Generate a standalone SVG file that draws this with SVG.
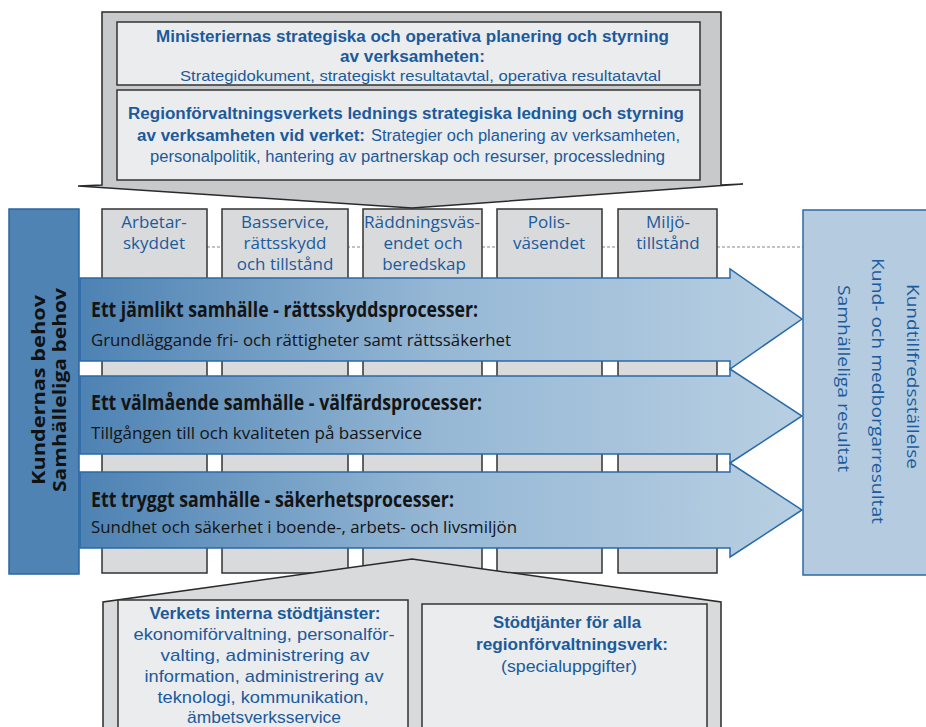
<svg xmlns="http://www.w3.org/2000/svg" width="926" height="727" viewBox="0 0 926 727">
<defs>
<linearGradient id="ag" gradientUnits="userSpaceOnUse" x1="80" y1="0" x2="802" y2="0">
<stop offset="0" stop-color="#4d82b3"/>
<stop offset="0.5" stop-color="#96b8d5"/>
<stop offset="1" stop-color="#b8cfe2"/>
</linearGradient>
<style>
.col{fill:#d9dadc;stroke:#333;stroke-width:1.5}
.inner{fill:#ebeced;stroke:#333;stroke-width:1.5}
.t{font-family:"Open Sans","Noto Sans",sans-serif;fill:#1b5a9b}
.ls{font-family:"Liberation Sans",Arial,sans-serif;fill:#1b5a9b}
.lbl{font-size:17px;text-anchor:middle}
.b{font-weight:bold}
.top{font-size:16px}
.top2{font-size:15px}
.bot{font-size:17px}
.arrow{fill:url(#ag);stroke:#2a6aa8;stroke-width:1.5}
.ah{font-family:"Open Sans","Noto Sans",sans-serif;font-weight:bold;font-size:21px;fill:#141414}
.as{font-family:"Open Sans","Noto Sans",sans-serif;font-size:17px;fill:#141414}
.side{font-family:"Open Sans","Noto Sans",sans-serif;font-size:17px}
</style>
</defs>
<rect width="926" height="727" fill="#ffffff"/>

<g id="connectors">
<line x1="207" y1="247" x2="803" y2="247" stroke="#888" stroke-width="1" stroke-dasharray="3,2"/>
</g>

<g id="col-arbetarskyddet">
<rect class="col" x="102" y="209" width="105" height="364"/>
<text class="t lbl" x="154" y="228">Arbetar-</text>
<text class="t lbl" x="154" y="249">skyddet</text>
</g>
<g id="col-basservice">
<rect class="col" x="222" y="209" width="126" height="364"/>
<text class="t lbl" x="285" y="228">Basservice,</text>
<text class="t lbl" x="285" y="249">rättsskydd</text>
<text class="t lbl" x="285" y="270">och tillstånd</text>
</g>
<g id="col-raddning">
<rect class="col" x="363" y="209" width="119" height="364"/>
<text class="t lbl" x="422" y="228" textLength="116" lengthAdjust="spacingAndGlyphs">Räddningsväs-</text>
<text class="t lbl" x="423" y="249">endet och</text>
<text class="t lbl" x="424" y="270">beredskap</text>
</g>
<g id="col-polis">
<rect class="col" x="497" y="209" width="105" height="364"/>
<text class="t lbl" x="549" y="228">Polis-</text>
<text class="t lbl" x="549" y="249">väsendet</text>
</g>
<g id="col-miljo">
<rect class="col" x="618" y="209" width="99" height="364"/>
<text class="t lbl" x="668" y="228">Miljö-</text>
<text class="t lbl" x="668" y="249">tillstånd</text>
</g>

<g id="top-steering">
<polygon points="102,12 721,12 721,185 743,184 412,208 78,186 102,185" fill="#c8c9cb" stroke="#2a2a2a" stroke-width="1.5" stroke-linejoin="miter"/>
<rect class="inner" x="117" y="22" width="583" height="63"/>
<rect class="inner" x="117" y="90" width="583" height="90"/>
<text class="ls top b" x="412.5" y="42" text-anchor="middle" textLength="513" lengthAdjust="spacingAndGlyphs">Ministeriernas strategiska och operativa planering och styrning</text>
<text class="ls top b" x="412.5" y="62" text-anchor="middle" textLength="145" lengthAdjust="spacingAndGlyphs">av verksamheten:</text>
<text class="ls top2" x="180" y="80.5" textLength="481" lengthAdjust="spacingAndGlyphs">Strategidokument, strategiskt resultatavtal, operativa resultatavtal</text>
<text class="ls top b" x="128" y="119" textLength="556" lengthAdjust="spacingAndGlyphs">Regionförvaltningsverkets lednings strategiska ledning och styrning</text>
<text class="ls top b" x="137" y="141" textLength="228" lengthAdjust="spacingAndGlyphs">av verksamheten vid verket:</text>
<text class="ls top" x="371" y="141" textLength="309" lengthAdjust="spacingAndGlyphs">Strategier och planering av verksamheten,</text>
<text class="ls top" x="150" y="162" textLength="515" lengthAdjust="spacingAndGlyphs">personalpolitik, hantering av partnerskap och resurser, processledning</text>
</g>

<g id="bottom-support">
<polygon points="103,740 103,602 412,559 721,602 721,740" fill="#d9dadc" stroke="#2a2a2a" stroke-width="1.5"/>
<rect class="inner" x="118" y="600" width="290" height="140"/>
<rect class="inner" x="422" y="604" width="285" height="136"/>
<text class="ls bot b" x="265" y="619" text-anchor="middle" textLength="231" lengthAdjust="spacingAndGlyphs">Verkets interna stödtjänster:</text>
<text class="ls bot" x="264" y="640" text-anchor="middle" textLength="261" lengthAdjust="spacingAndGlyphs">ekonomiförvaltning, personalför-</text>
<text class="ls bot" x="265" y="661" text-anchor="middle" textLength="209" lengthAdjust="spacingAndGlyphs">valting, administrering av</text>
<text class="ls bot" x="264" y="682" text-anchor="middle" textLength="239" lengthAdjust="spacingAndGlyphs">information, administrering av</text>
<text class="ls bot" x="263" y="703" text-anchor="middle" textLength="211" lengthAdjust="spacingAndGlyphs">teknologi, kommunikation,</text>
<text class="ls bot" x="264" y="723" text-anchor="middle" textLength="154" lengthAdjust="spacingAndGlyphs">ämbetsverksservice</text>
<text class="ls bot b" x="567" y="628" text-anchor="middle" textLength="148" lengthAdjust="spacingAndGlyphs">Stödtjänter för alla</text>
<text class="ls bot b" x="572" y="650" text-anchor="middle" textLength="192" lengthAdjust="spacingAndGlyphs">regionförvaltningsverk:</text>
<text class="ls bot" x="569" y="672" text-anchor="middle" textLength="136" lengthAdjust="spacingAndGlyphs">(specialuppgifter)</text>
</g>

<g id="arrow-rattsskydd">
<polygon class="arrow" points="80,278 730,278 730,269 802,319 730,369 730,361 80,361"/>
<text class="ah" x="91" y="317" textLength="387" lengthAdjust="spacingAndGlyphs">Ett jämlikt samhälle - rättsskyddsprocesser:</text>
<text class="as" x="91" y="346" textLength="420" lengthAdjust="spacingAndGlyphs">Grundläggande fri- och rättigheter samt rättssäkerhet</text>
</g>
<g id="arrow-valfard">
<polygon class="arrow" points="80,376 730,376 730,369 802,416 730,463 730,454 80,454"/>
<text class="ah" x="91" y="410" textLength="391" lengthAdjust="spacingAndGlyphs">Ett välmående samhälle - välfärdsprocesser:</text>
<text class="as" x="91" y="439" textLength="331" lengthAdjust="spacingAndGlyphs">Tillgången till och kvaliteten på basservice</text>
</g>
<g id="arrow-sakerhet">
<polygon class="arrow" points="80,472 730,472 730,463 802,510 730,557 730,548 80,548"/>
<text class="ah" x="91" y="507" textLength="363" lengthAdjust="spacingAndGlyphs">Ett tryggt samhälle - säkerhetsprocesser:</text>
<text class="as" x="91" y="533" textLength="426" lengthAdjust="spacingAndGlyphs">Sundhet och säkerhet i boende-, arbets- och livsmiljön</text>
</g>

<g id="needs">
<rect x="9" y="209" width="70" height="365" fill="#4f83b3" stroke="#2a65a0" stroke-width="1.5"/>
<text class="side b" transform="translate(45,390) rotate(-90)" text-anchor="middle" fill="#111" font-size="19" textLength="190" lengthAdjust="spacingAndGlyphs">Kundernas behov</text>
<text class="side b" transform="translate(66,390) rotate(-90)" text-anchor="middle" fill="#111" font-size="19" textLength="204" lengthAdjust="spacingAndGlyphs">Samhälleliga behov</text>
</g>

<g id="results">
<rect x="803" y="210" width="135" height="365" fill="#b4cbe0" stroke="#2e6aa3" stroke-width="1.5"/>
<text class="side" transform="translate(907,284) rotate(90)" fill="#1b5a9b" textLength="185" lengthAdjust="spacingAndGlyphs">Kundtillfredsställelse</text>
<text class="side" transform="translate(872,258) rotate(90)" fill="#1b5a9b" textLength="266" lengthAdjust="spacingAndGlyphs">Kund- och medborgarresultat</text>
<text class="side" transform="translate(838,285) rotate(90)" fill="#1b5a9b" textLength="187" lengthAdjust="spacingAndGlyphs">Samhälleliga resultat</text>
</g>
</svg>
